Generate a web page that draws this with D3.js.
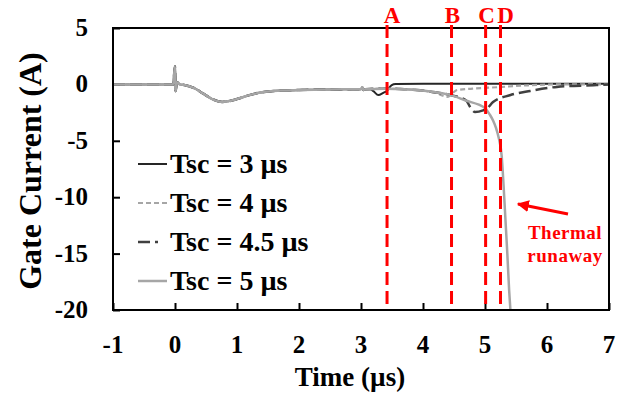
<!DOCTYPE html>
<html><head><meta charset="utf-8">
<script src="https://cdn.jsdelivr.net/npm/d3@7"></script>
<style>body{margin:0;background:#fff}svg{display:block}text{font-family:"Liberation Serif","Times New Roman",serif;font-weight:bold}</style>
</head><body><svg id="c" width="623" height="394"></svg>
<script>
const xTicks = [-1,0,1,2,3,4,5,6,7];
const yTicks = [5,0,-5,-10,-15,-20];
const markers = [{label:"A",t:3.42},{label:"B",t:4.46},{label:"C",t:5.01},{label:"D",t:5.25}];
const seriesNames = ["Tsc = 3 \u00b5s","Tsc = 4 \u00b5s","Tsc = 4.5 \u00b5s","Tsc = 5 \u00b5s"];
// [time µs, gate current A]
const tsc3 = [[-1,0],[-0.03,0],[0,1.6],[0.01,-0.6],[0.03,0.2],[0.08,0],[0.15,-0.05],[0.3,-0.3],[0.45,-0.8],[0.6,-1.3],[0.76,-1.55],[0.9,-1.45],[1.0,-1.3],[1.2,-0.95],[1.4,-0.7],[1.7,-0.55],[2.0,-0.5],[2.5,-0.45],[3.0,-0.42],[3.02,-0.25],[3.04,-0.5],[3.07,-0.42],[3.15,-0.42],[3.2,-0.6],[3.28,-0.95],[3.36,-0.75],[3.41,-0.6],[3.49,-0.08],[3.56,0.03],[4.0,0.05],[7.0,0.05]];
const tsc4 = [[-1,0],[-0.03,0],[0,1.6],[0.01,-0.6],[0.03,0.2],[0.08,0],[0.15,-0.05],[0.3,-0.3],[0.45,-0.8],[0.6,-1.3],[0.76,-1.55],[0.9,-1.45],[1.0,-1.3],[1.2,-0.95],[1.4,-0.7],[1.7,-0.55],[2.0,-0.5],[2.5,-0.45],[3.0,-0.42],[3.02,-0.25],[3.04,-0.5],[3.07,-0.42],[3.4,-0.38],[3.7,-0.42],[3.9,-0.5],[4.2,-0.75],[4.4,-1.1],[4.46,-0.85],[4.55,-0.5],[4.8,-0.38],[5.2,-0.25],[5.7,-0.08],[6.2,0],[7.0,0]];
const tsc45 = [[-1,0],[-0.03,0],[0,1.6],[0.01,-0.6],[0.03,0.2],[0.08,0],[0.15,-0.05],[0.3,-0.3],[0.45,-0.8],[0.6,-1.3],[0.76,-1.55],[0.9,-1.45],[1.0,-1.3],[1.2,-0.95],[1.4,-0.7],[1.7,-0.55],[2.0,-0.5],[2.5,-0.45],[3.0,-0.42],[3.02,-0.25],[3.04,-0.5],[3.07,-0.42],[3.4,-0.38],[3.7,-0.42],[3.9,-0.5],[4.2,-0.7],[4.45,-0.95],[4.7,-1.45],[4.76,-2.0],[4.84,-2.45],[4.97,-2.3],[5.03,-2.15],[5.13,-1.56],[5.4,-0.96],[5.73,-0.58],[6.16,-0.22],[6.75,-0.07],[7.0,0]];
const tsc5 = [[-1,0],[-0.03,0],[0,1.6],[0.01,-0.6],[0.03,0.2],[0.08,0],[0.15,-0.05],[0.3,-0.3],[0.45,-0.8],[0.6,-1.3],[0.76,-1.55],[0.9,-1.45],[1.0,-1.3],[1.2,-0.95],[1.4,-0.7],[1.7,-0.55],[2.0,-0.5],[2.5,-0.45],[3.0,-0.42],[3.02,-0.25],[3.04,-0.5],[3.07,-0.42],[3.4,-0.38],[3.7,-0.42],[3.9,-0.5],[4.2,-0.7],[4.45,-0.95],[4.7,-1.45],[4.9,-1.8],[5.0,-2.1],[5.08,-2.7],[5.13,-3.2],[5.18,-3.9],[5.22,-4.7],[5.27,-6.4],[5.3,-9.0],[5.33,-12],[5.36,-15],[5.39,-18.3],[5.41,-20]];

const styles = [
  {color:"#262626", width:2, dash:null},
  {color:"#a6a6a6", width:2.2, dash:"5,3"},
  {color:"#404040", width:2.5, dash:"12,5"},
  {color:"#a6a6a6", width:2.5, dash:null}
];
const allData = [tsc3, tsc4, tsc45, tsc5];

const svg = d3.select("#c");
const L=113, T=28, R=609, B=310;
const x = d3.scaleLinear().domain([-1,7]).range([L,R]);
const y = d3.scaleLinear().domain([-20,5]).range([B,T]);

svg.append("defs").append("clipPath").attr("id","clip").append("rect").attr("x",L).attr("y",T).attr("width",R-L).attr("height",B-T);

const xAxis = d3.axisTop(x).tickValues(xTicks).tickSize(7).tickFormat("");
const gx = svg.append("g").attr("transform",`translate(0,${B})`).call(xAxis);
const yAxis = d3.axisRight(y).tickValues(yTicks).tickSize(7).tickFormat("");
const gy = svg.append("g").attr("transform",`translate(${L},0)`).call(yAxis);
[gx,gy].forEach(g=>{g.select(".domain").remove();g.selectAll("line").attr("stroke","#000").attr("stroke-width",2);});

svg.append("g").selectAll("text").data(xTicks).join("text")
  .attr("x",d=>x(d)).attr("y",353).attr("text-anchor","middle").attr("font-size",25).text(d=>d);
svg.append("g").selectAll("text").data(yTicks).join("text")
  .attr("x",88).attr("y",d=>y(d)+8).attr("text-anchor","end").attr("font-size",25).text(d=>d);

const line = d3.line().x(d=>x(d[0])).y(d=>y(d[1])).curve(d3.curveMonotoneX);
const gs = svg.append("g").attr("clip-path","url(#clip)");
allData.forEach((data,i)=>{
  const s = styles[i];
  gs.append("path").datum(data).attr("d",line).attr("fill","none")
    .attr("stroke",s.color).attr("stroke-width",s.width)
    .attr("stroke-dasharray",s.dash).attr("stroke-linejoin","round");
});

svg.append("rect").attr("x",L).attr("y",T).attr("width",R-L).attr("height",B-T)
  .attr("fill","none").attr("stroke","#000").attr("stroke-width",2);

markers.forEach(m=>{
  svg.append("line").attr("x1",x(m.t)).attr("x2",x(m.t)).attr("y1",25).attr("y2",B)
    .attr("stroke","#ff0000").attr("stroke-width",3).attr("stroke-dasharray","13,6");
});
const labelOffsets = {A:5,B:1,C:1,D:5};
svg.append("g").selectAll("text").data(markers).join("text")
  .attr("x",d=>x(d.t)+labelOffsets[d.label]).attr("y",23).attr("text-anchor","middle")
  .attr("fill","#ff0000").attr("font-size",23).text(d=>d.label);

const lg = svg.append("g");
seriesNames.forEach((n,i)=>{
  const ly = 164 + i*39;
  const s = styles[i];
  lg.append("line").attr("x1",138).attr("x2",i===2?158:167).attr("y1",ly).attr("y2",ly)
    .attr("stroke",s.color).attr("stroke-width",s.width).attr("stroke-dasharray",s.dash);
  lg.append("text").attr("x",170).attr("y",ly+9).attr("font-size",28).text(n);
});

svg.append("defs").append("marker").attr("id","ah").attr("viewBox","0 0 10 10")
  .attr("refX",9).attr("refY",5).attr("markerWidth",4).attr("markerHeight",4).attr("orient","auto")
  .append("path").attr("d","M0,0L10,5L0,10z").attr("fill","#ff0000");
svg.append("line").attr("x1",568).attr("y1",214).attr("x2",518).attr("y2",204)
  .attr("stroke","#ff0000").attr("stroke-width",3).attr("marker-end","url(#ah)");
svg.append("text").attr("x",565).attr("y",239).attr("text-anchor","middle").attr("fill","#ff0000").attr("font-size",19).attr("letter-spacing",0.5).text("Thermal");
svg.append("text").attr("x",565).attr("y",262).attr("text-anchor","middle").attr("fill","#ff0000").attr("font-size",19).attr("letter-spacing",0.5).text("runaway");

svg.append("text").attr("x",350).attr("y",386).attr("text-anchor","middle").attr("font-size",27).text("Time (\u00b5s)");
svg.append("text").attr("transform","translate(41,171) rotate(-90)").attr("text-anchor","middle").attr("font-size",32).text("Gate Current (A)");
</script></body></html>
